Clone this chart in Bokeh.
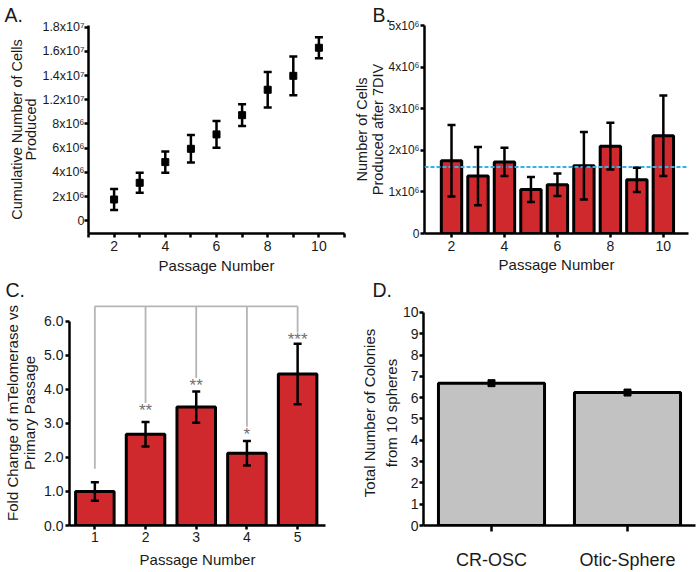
from bokeh.plotting import figure
from bokeh.models import (ColumnDataSource, Whisker, TeeHead, Span,
                          FixedTicker, Range1d, FactorRange)
from bokeh.layouts import column, row
from bokeh.embed import file_html
from bokeh.resources import INLINE
from bokeh.core.properties import value

FONT = "Liberation Sans"
INK = "#1a1a1a"
BAR_RED = "#d0292d"
BAR_GRAY = "#c2c2c2"

# ---------------- data ----------------
# Panel A: cumulative cells
a_passage = [2, 3, 4, 5, 6, 7, 8, 9, 10]
a_cumulative = [1.76e6, 3.14e6, 4.85e6, 5.95e6, 7.14e6, 8.73e6, 10.83e6, 11.98e6, 14.30e6]
a_error = [0.87e6, 0.83e6, 0.88e6, 1.14e6, 1.10e6, 0.90e6, 1.47e6, 1.60e6, 0.87e6]
a_y_ticks = [0, 2000000, 4000000, 6000000, 8000000, 10000000, 12000000, 14000000, 16000000]
a_y_tick_labels = ["0", "2x10⁶", "4x10⁶", "6x10⁶", "8x10⁶", "1.2x10⁷", "1.4x10⁷", "1.6x10⁷", "1.8x10⁷"]
a_x_ticks = [2, 4, 6, 8, 10]
a_x_minor = [1, 3, 5, 7, 9, 11]

# Panel B: cells produced after 7DIV
b_passage = [2, 3, 4, 5, 6, 7, 8, 9, 10]
b_cells = [1.75e6, 1.38e6, 1.72e6, 1.06e6, 1.17e6, 1.63e6, 2.10e6, 1.29e6, 2.35e6]
b_error = [0.86e6, 0.70e6, 0.34e6, 0.30e6, 0.27e6, 0.81e6, 0.56e6, 0.29e6, 0.97e6]
b_average = 1.6e6
b_y_ticks = [0, 1000000, 2000000, 3000000, 4000000, 5000000]
b_y_tick_labels = ["0", "1x10⁶", "2x10⁶", "3x10⁶", "4x10⁶", "5x10⁶"]
b_x_ticks = [2, 4, 6, 8, 10]

# Panel C: mTelomerase fold change
c_passage = [1, 2, 3, 4, 5]
c_fold = [1.00, 2.68, 3.48, 2.12, 4.45]
c_error = [0.27, 0.36, 0.46, 0.36, 0.89]
c_stars = ["", "**", "**", "*", "***"]
c_bracket_y = 6.44
c_bracket_ends = [1.67, 3.60, 4.33, 2.90, 5.67]
c_y_ticks = [0, 1, 2, 3, 4, 5, 6]

# Panel D: colonies
d_groups = ["CR-OSC", "Otic-Sphere"]
d_colonies = [6.68, 6.24]
d_y_ticks = [0, 1, 2, 3, 4, 5, 6, 7, 8, 9, 10]


def style(p, tick_size="14px", label_size="15px", line_height=1.0):
    p.outline_line_color = None
    p.xgrid.visible = False
    p.ygrid.visible = False
    p.background_fill_color = "white"
    p.border_fill_color = "white"
    for ax in p.axis:
        ax.axis_line_width = 2.5
        ax.axis_line_color = "black"
        ax.major_tick_line_width = 2.5
        ax.major_tick_line_color = "black"
        ax.major_tick_in = 0
        ax.major_tick_out = 4
        ax.minor_tick_line_width = 2.5
        ax.minor_tick_line_color = "black"
        ax.minor_tick_in = 0
        ax.minor_tick_out = 4
        ax.major_label_text_font = FONT
        ax.major_label_text_font_size = tick_size
        ax.major_label_text_color = INK
        ax.major_label_standoff = 2
        ax.axis_label_text_font = FONT
        ax.axis_label_text_font_size = label_size
        ax.axis_label_text_font_style = "normal"
        ax.axis_label_text_color = INK
        ax.axis_label_text_line_height = line_height
        ax.axis_label_standoff = 3


def letter(p, txt, offset):
    p.title.text = txt
    p.title.align = "left"
    p.title.offset = offset
    p.title.standoff = 0
    p.title.text_font = FONT
    p.title.text_font_size = "19.5px"
    p.title.text_font_style = "normal"
    p.title.text_color = INK


def whiskers(p, xs, vals, errs, level="annotation"):
    src = ColumnDataSource(dict(x=xs,
                                upper=[v + e for v, e in zip(vals, errs)],
                                lower=[v - e for v, e in zip(vals, errs)]))
    w = Whisker(base="x", upper="upper", lower="lower", source=src,
                line_color="black", line_width=2.5,
                upper_head=TeeHead(size=8, line_color="black", line_width=2.5),
                lower_head=TeeHead(size=8, line_color="black", line_width=2.5),
                level=level)
    p.add_layout(w)


TOP_H = 276
BOT_H = 572 - TOP_H
LEFT_W = 350
RIGHT_W = 697 - LEFT_W

# ---------------- Panel A ----------------
pa = figure(width=LEFT_W, height=TOP_H, output_backend="svg", toolbar_location=None,
            x_range=Range1d(1, 11), y_range=Range1d(-1.05e6, 16.14e6),
            min_border_left=88, min_border_right=6, min_border_top=25,
            min_border_bottom=TOP_H - 233)
style(pa, label_size="14.5px")
pa.xaxis.ticker = FixedTicker(ticks=a_x_ticks, minor_ticks=a_x_minor)
pa.yaxis.ticker = FixedTicker(ticks=a_y_ticks, minor_ticks=[])
pa.yaxis.major_label_overrides = {t: l for t, l in zip(a_y_ticks, a_y_tick_labels)}
pa.yaxis.major_label_text_font_size = "12.5px"
pa.yaxis.major_label_standoff = 0
pa.yaxis.axis_label_standoff = 0
pa.yaxis.axis_label_text_line_height = 0.9
pa.xaxis.axis_label = "Passage Number"
pa.xaxis.axis_label_text_font_size = "15px"
pa.yaxis.axis_label = "Cumulative Number of Cells\nProduced"
pa.xaxis.major_label_standoff = 3
pa.xaxis.axis_label_standoff = 3
whiskers(pa, a_passage, a_cumulative, a_error, level="glyph")
pa.scatter(x=a_passage, y=a_cumulative, marker="square", size=7, color="black")
letter(pa, "A.", -84)

# ---------------- Panel B ----------------
pb = figure(width=RIGHT_W, height=TOP_H, output_backend="svg", toolbar_location=None,
            x_range=Range1d(0.98, 10.95), y_range=Range1d(0, 5e6),
            min_border_left=74, min_border_right=9,
            min_border_top=24, min_border_bottom=TOP_H - 234)
style(pb, label_size="14.5px", line_height=1.0)
pb.xaxis.ticker = FixedTicker(ticks=b_x_ticks, minor_ticks=[])
pb.yaxis.ticker = FixedTicker(ticks=b_y_ticks, minor_ticks=[])
pb.yaxis.major_label_overrides = {t: l for t, l in zip(b_y_ticks, b_y_tick_labels)}
pb.yaxis.major_label_text_font_size = "12px"
pb.yaxis.major_label_standoff = 1
pb.yaxis.axis_label_standoff = 0
pb.xaxis.axis_label = "Passage Number"
pb.xaxis.axis_label_text_font_size = "15px"
pb.yaxis.axis_label = "Number of Cells\nProduced after 7DIV"
pb.xaxis.major_label_standoff = 3
pb.xaxis.axis_label_standoff = 2
pb.vbar(x=b_passage, top=b_cells, width=0.77, fill_color=BAR_RED,
        line_color="black", line_width=3)
pb.add_layout(Span(location=b_average, dimension="width", line_color="#35b0e6",
                   line_width=2, line_dash="4 2"))
whiskers(pb, b_passage, b_cells, b_error)
letter(pb, "B.", -52)

# ---------------- Panel C ----------------
pc = figure(width=LEFT_W, height=BOT_H, output_backend="svg", toolbar_location=None,
            x_range=Range1d(0.5, 5.55), y_range=Range1d(0, 6.61),
            min_border_left=69, min_border_right=LEFT_W - 325, min_border_top=300 - TOP_H,
            min_border_bottom=572 - 526)
style(pc)
pc.xaxis.ticker = FixedTicker(ticks=c_passage, minor_ticks=[])
pc.yaxis.ticker = FixedTicker(ticks=c_y_ticks, minor_ticks=[])
pc.yaxis.major_label_overrides = {t: f"{t:.1f}" for t in c_y_ticks}
pc.yaxis.bounds = (0, 6)
pc.xaxis.axis_label = "Passage Number"
pc.yaxis.axis_label = "Fold Change of mTelomerase vs\nPrimary Passage"
pc.xaxis.axis_label_standoff = 6
pc.vbar(x=c_passage, top=c_fold, width=0.76, fill_color=BAR_RED,
        line_color="black", line_width=3)
whiskers(pc, c_passage, c_fold, c_error)
pc.segment(x0=[c_passage[0]], y0=[c_bracket_y], x1=[c_passage[-1]], y1=[c_bracket_y],
           line_color="#b5b5b5", line_width=1.8)
pc.segment(x0=c_passage, y0=[c_bracket_y] * len(c_passage), x1=c_passage, y1=c_bracket_ends,
           line_color="#b5b5b5", line_width=1.8)
pc.text(x=c_passage, y=c_bracket_ends, text=c_stars, text_font=value(FONT),
        text_font_size="17px", text_color="#707070", text_align="center",
        text_baseline="top", y_offset=-2)
letter(pc, "C.", -64)

# ---------------- Panel D ----------------
pd_ = figure(width=RIGHT_W, height=BOT_H, output_backend="svg", toolbar_location=None,
             x_range=FactorRange(factors=d_groups), y_range=Range1d(0, 10.56),
             min_border_left=73, min_border_right=2, min_border_top=300 - TOP_H,
             min_border_bottom=572 - 528)
style(pd_, line_height=1.3)
pd_.yaxis.ticker = FixedTicker(ticks=d_y_ticks, minor_ticks=[])
pd_.yaxis.bounds = (0, 10)
pd_.yaxis.major_label_standoff = 1
pd_.yaxis.axis_label_standoff = 0
pd_.xaxis.major_label_text_font_size = "18px"
pd_.xaxis.major_tick_out = 6
pd_.xaxis.major_label_standoff = 18
pd_.yaxis.axis_label = "Total Number of Colonies\nfrom 10 spheres"
pd_.vbar(x=d_groups, top=d_colonies, width=0.78, fill_color=BAR_GRAY,
         line_color="black", line_width=3)
pd_.scatter(x=d_groups, y=d_colonies, marker="square", size=7, color="black")
letter(pd_, "D.", -51)

layout = column(row(pa, pb), row(pc, pd_))
open("out.html", "w").write(file_html(layout, INLINE))
